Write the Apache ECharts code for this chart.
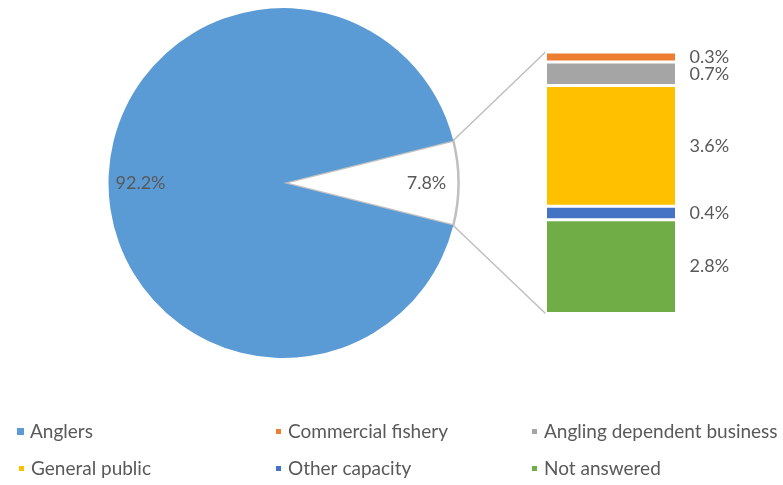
<!DOCTYPE html>
<html>
<head>
<meta charset="utf-8">
<script src="https://cdn.jsdelivr.net/npm/echarts@6/dist/echarts.min.js"></script>
<style>
  html, body { margin: 0; padding: 0; background: #fff; }
  #chart { width: 783px; height: 485px; }
</style>
</head>
<body>
<div id="chart"></div>
<script>
// Respondent capacity: main pie share and breakdown of the remaining share
const pieNames = ['Anglers', 'Other'];
const anglersShare = 92.2;

// Breakdown bar, listed bottom-to-top of the stack
const barNames = ['Not answered', 'Other capacity', 'General public', 'Angling dependent business', 'Commercial fishery'];
const barValues = [2.8, 0.4, 3.6, 0.7, 0.3];
const barColors = ['#70AD47', '#4472C4', '#FFC000', '#A5A5A5', '#ED7D31'];

// Legend grid: rows of three entries
const legendRow1 = ['Anglers', 'Commercial fishery', 'Angling dependent business'];
const legendRow2 = ['General public', 'Other capacity', 'Not answered'];

const otherShare = Math.round(barValues.reduce((a, b) => a + b, 0) * 10) / 10;
const FONT = 'Lato';
const TEXT = '#595959';

const CX = 283.5, CY = 183, R = 175;
const GRID = { left: 545.5, top: 52, width: 131, height: 261.5 };

const halfAngle = otherShare / (anglersShare + otherShare) * 180;
const pieData = [
  { name: pieNames[1], value: otherShare, itemStyle: { color: '#ffffff', borderColor: '#BFBFBF', borderWidth: 2.5 } },
  { name: pieNames[0], value: anglersShare, itemStyle: { color: '#5B9BD5' } }
];

const chart = echarts.init(document.getElementById('chart'), null, { renderer: 'canvas' });

// one legend component per entry so each sits in its own column/row slot
const colLeft = [12, 269, 525];
const rowTop = [417, 454];
const legends = [];
[legendRow1, legendRow2].forEach((row, r) => {
  row.forEach((name, c) => {
    legends.push({
      left: colLeft[c], top: rowTop[r], data: [name],
      icon: 'rect', itemWidth: 7, itemHeight: 7, selectedMode: false,
      textStyle: { fontFamily: FONT, fontSize: 19, color: TEXT, padding: [0, 0, 0, 1] }
    });
  });
});

const series = [
  {
    type: 'pie', name: 'share', center: [CX, CY], radius: R,
    startAngle: halfAngle, clockwise: true, silent: true,
    label: { show: false }, labelLine: { show: false },
    data: pieData, animation: false
  },
  {
    // transparent ring that carries the percentage labels near the rim
    type: 'pie', name: 'shareLabels', center: [CX, CY], radius: [105, R],
    startAngle: halfAngle, clockwise: true, silent: true,
    itemStyle: { color: 'rgba(0,0,0,0)' },
    label: { show: true, position: 'inside', formatter: '{c}%', fontFamily: FONT, fontSize: 18, color: TEXT },
    labelLine: { show: false },
    data: pieData.map(d => ({ name: d.name, value: d.value })), animation: false
  }
];

barNames.forEach((n, i) => {
  series.push({
    type: 'bar', name: n, stack: 'rest', barWidth: '100%',
    xAxisIndex: 0, yAxisIndex: 0,
    itemStyle: { color: barColors[i], borderColor: '#ffffff', borderWidth: 1.5 },
    label: { show: true, position: 'right', distance: 13, formatter: '{c}%', fontFamily: FONT, fontSize: 18, color: TEXT },
    data: [barValues[i]], animation: false
  });
});

chart.setOption({
  backgroundColor: '#ffffff',
  animation: false,
  legend: legends,
  grid: GRID,
  xAxis: { type: 'category', data: ['rest'], show: false },
  yAxis: { type: 'value', min: 0, max: otherShare, show: false },
  series: series
});

// Connector lines from the edges of the small slice to the corners of the stacked bar
const yTop = chart.convertToPixel({ yAxisIndex: 0 }, otherShare);
const yBottom = chart.convertToPixel({ yAxisIndex: 0 }, 0);
const rad = halfAngle * Math.PI / 180;
const px = CX + R * Math.cos(rad);
const pyUp = CY - R * Math.sin(rad);
const pyDown = CY + R * Math.sin(rad);
const lineStyle = { stroke: '#BFBFBF', lineWidth: 1.5 };
chart.setOption({
  graphic: [
    { type: 'line', silent: true, shape: { x1: px, y1: pyUp, x2: GRID.left, y2: yTop }, style: lineStyle },
    { type: 'line', silent: true, shape: { x1: px, y1: pyDown, x2: GRID.left, y2: yBottom }, style: lineStyle }
  ]
});
</script>
</body>
</html>
